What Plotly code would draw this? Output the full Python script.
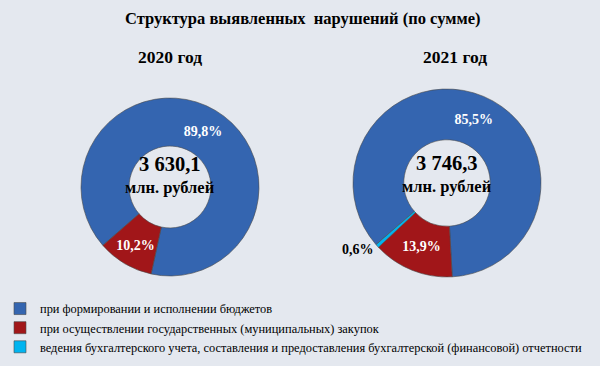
import plotly.graph_objects as go

categories = [
    "при формировании и исполнении бюджетов",
    "при осуществлении государственных (муниципальных) закупок",
    "ведения бухгалтерского учета, составления и предоставления бухгалтерской (финансовой) отчетности",
]
colors = ["#3465B0", "#A11619", "#00B4F0"]
years = ["2020 год", "2021 год"]
totals = ["3 630,1", "3 746,3"]
share_2020 = [89.8, 10.2, 0.0]
share_2021 = [85.5, 13.9, 0.6]

BG = "#E4E8EF"
SERIF = "Liberation Serif"

def fmt(v):
    return ("%.1f%%" % v).replace(".", ",")

fig = go.Figure()

fig.add_trace(go.Pie(
    labels=categories[:2], values=share_2020[:2],
    text=[fmt(v) for v in share_2020[:2]], texttemplate="<b>%{text}</b>",
    hole=0.46, sort=False, direction="clockwise", rotation=229,
    marker=dict(colors=colors[:2], line=dict(color="#4a4a4a", width=0.6)),
    textposition="inside", insidetextorientation="horizontal",
    textfont=dict(family=SERIF, size=14, color="white"),
    domain=dict(x=[(170 - 89) / 600, (170 + 89) / 600], y=[(366 - 187 - 89) / 366, (366 - 187 + 89) / 366]),
    showlegend=True, hoverinfo="label+percent",
))

fig.add_trace(go.Pie(
    labels=categories, values=share_2021,
    text=[fmt(v) for v in share_2021], texttemplate="<b>%{text}</b>",
    hole=0.46, sort=False, direction="clockwise", rotation=229,
    marker=dict(colors=colors, line=dict(color="#4a4a4a", width=0.6)),
    textposition=["inside", "inside", "outside"], insidetextorientation="horizontal",
    textfont=dict(family=SERIF, size=14, color=["white", "white", "black"]),
    domain=dict(x=[(447 - 94) / 600, (447 + 94) / 600], y=[(366 - 183 - 94) / 366, (366 - 183 + 94) / 366]),
    showlegend=True, hoverinfo="label+percent",
))

def ann(text, x, y, size):
    return dict(text=text, x=x / 600, y=1 - y / 366, xref="paper", yref="paper",
                xanchor="center", yanchor="middle", showarrow=False,
                font=dict(family=SERIF, size=size, color="black"))

annotations = [
    ann("<b>Структура выявленных  нарушений (по сумме)</b>", 302, 18, 16.5),
    ann("<b>%s</b>" % years[0], 170, 57, 17.5),
    ann("<b>%s</b>" % years[1], 455, 57, 17.5),
]
for cx, cy, tot in [(170, 164, totals[0]), (447, 163, totals[1])]:
    annotations.append(ann("<b>%s</b>" % tot, cx, cy, 20.5))
    annotations.append(ann("<b>млн. рублей</b>", cx, cy + 23, 16.5))

fig.update_layout(
    width=600, height=366,
    margin=dict(l=0, r=0, t=0, b=0),
    paper_bgcolor=BG, plot_bgcolor=BG,
    annotations=annotations,
    legend=dict(x=0.0, y=1 - 294 / 366, xanchor="left", yanchor="top",
                font=dict(family=SERIF, size=12.4, color="black"),
                bgcolor="rgba(0,0,0,0)", tracegroupgap=0, itemwidth=30),
)

fig.write_html("out.html", config={"displayModeBar": False},
               post_script="document.body.style.margin='0';")
